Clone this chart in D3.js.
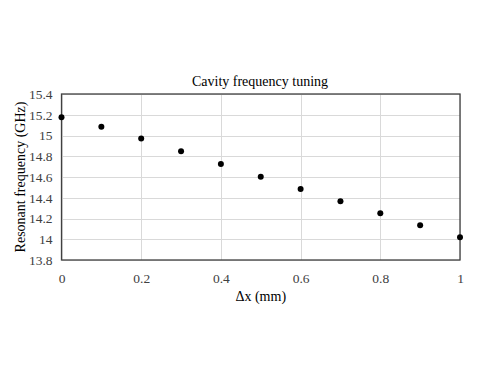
<!doctype html>
<html>
<head>
<meta charset="utf-8"/>
<style>
    html, body { margin: 0; padding: 0; background: #fff; }
    svg { display: block; font-family: "Liberation Serif", "Times New Roman", serif; }
    .grid line { stroke: #d9d9d9; stroke-width: 1; shape-rendering: crispEdges; }
    .axis path, .axis line { display: none; }
    .axis text { font-size: 13.5px; fill: #404040; font-family: "Liberation Serif", serif; }
</style>
<script src="https://d3js.org/d3.v7.min.js"></script>
</head>
<body>
<svg width="485" height="374"></svg>
<script>
    // data
    var dx = [0, 0.1, 0.2, 0.3, 0.4, 0.5, 0.6, 0.7, 0.8, 0.9, 1.0];
    var freq = [15.175, 15.085, 14.97, 14.847, 14.725, 14.603, 14.484, 14.366, 14.25, 14.134, 14.02];
    var xTicks = [0, 0.2, 0.4, 0.6, 0.8, 1];
    var yTicks = [13.8, 14, 14.2, 14.4, 14.6, 14.8, 15, 15.2, 15.4];

    var svg = d3.select("svg");
    var plot = {left: 61.5, right: 460, top: 94, bottom: 260};

    var x = d3.scaleLinear().domain([0, 1]).range([plot.left, plot.right]);
    var y = d3.scaleLinear().domain([13.8, 15.4]).range([plot.bottom, plot.top]);

    var g = svg.append("g");

    // gridlines
    var grid = g.append("g").attr("class", "grid");
    grid.selectAll(".gy").data(yTicks).enter().append("line")
        .attr("x1", plot.left).attr("x2", plot.right)
        .attr("y1", function(d) { return Math.round(y(d)) + 0.5; })
        .attr("y2", function(d) { return Math.round(y(d)) + 0.5; });
    grid.selectAll(".gx").data(xTicks).enter().append("line")
        .attr("y1", plot.top).attr("y2", plot.bottom)
        .attr("x1", function(d) { return Math.round(x(d)) + 0.5; })
        .attr("x2", function(d) { return Math.round(x(d)) + 0.5; });

    // plot border
    g.append("rect")
        .attr("x", plot.left).attr("y", plot.top)
        .attr("width", plot.right - plot.left).attr("height", plot.bottom - plot.top)
        .attr("fill", "none").attr("stroke", "#404040").attr("stroke-width", 1.3);

    // axes (labels only)
    g.append("g").attr("class", "axis")
        .attr("transform", "translate(0," + plot.bottom + ")")
        .call(d3.axisBottom(x).tickValues(xTicks).tickSize(0).tickPadding(13)
            .tickFormat(function(d) { return String(d); }));
    g.append("g").attr("class", "axis")
        .attr("transform", "translate(" + plot.left + ",0)")
        .call(d3.axisLeft(y).tickValues(yTicks).tickSize(0).tickPadding(9)
            .tickFormat(function(d) { return String(+d.toFixed(1)); }));

    // points
    g.selectAll(".pt").data(dx).enter().append("circle")
        .attr("cx", function(d) { return x(d); })
        .attr("cy", function(d, i) { return y(freq[i]); })
        .attr("r", 3)
        .attr("fill", "#000");

    // titles
    svg.append("text")
        .attr("x", 260).attr("y", 86)
        .attr("text-anchor", "middle")
        .attr("font-size", "14px").attr("fill", "#000")
        .text("Cavity frequency tuning");
    svg.append("text")
        .attr("x", (plot.left + plot.right) / 2).attr("y", 301)
        .attr("text-anchor", "middle")
        .attr("font-size", "14px").attr("fill", "#000")
        .text("\u0394x (mm)");
    svg.append("text")
        .attr("transform", "translate(25," + ((plot.top + plot.bottom) / 2) + ") rotate(-90)")
        .attr("text-anchor", "middle")
        .attr("font-size", "14px").attr("fill", "#000")
        .text("Resonant frequency (GHz)");
</script>
</body>
</html>
